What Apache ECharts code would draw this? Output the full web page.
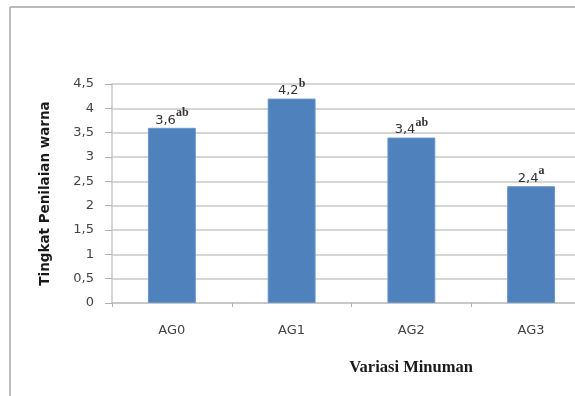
<!DOCTYPE html>
<html>
<head>
<meta charset="utf-8">
<script src="https://cdn.jsdelivr.net/npm/echarts@6/dist/echarts.min.js"></script>
<style>
  html, body { margin: 0; padding: 0; background: #fff; overflow: hidden; }
  #wrap { width: 575px; height: 396px; overflow: hidden; }
  /* canvas is wider than the frame so the plot runs off the right edge */
  #chart { width: 600px; height: 396px; }
</style>
</head>
<body>
<div id="wrap"><div id="chart"></div></div>
<script>
// Colour scores per drink variant, with significance letters
const categories = ['AG0', 'AG1', 'AG2', 'AG3'];
const scores = [3.6, 4.2, 3.4, 2.4];
const letters = ['ab', 'b', 'ab', 'a'];
const yTicks = [0, 0.5, 1, 1.5, 2, 2.5, 3, 3.5, 4, 4.5];

const fmt = v => String(v).replace('.', ',');

const chart = echarts.init(document.getElementById('chart'));
chart.setOption({
  animation: false,
  grid: { left: 112, right: 9, top: 84, bottom: 93 },
  graphic: [
    { type: 'line', shape: { x1: 10, y1: 7, x2: 600, y2: 7 }, style: { stroke: '#a6a6a6', lineWidth: 1.5 } },
    { type: 'line', shape: { x1: 10, y1: 7, x2: 10, y2: 396 }, style: { stroke: '#a6a6a6', lineWidth: 1.5 } },
    {
      type: 'text', x: 411, y: 368,
      style: {
        text: 'Variasi Minuman', align: 'center', verticalAlign: 'middle',
        font: 'bold 16.5px "Liberation Serif"', fill: '#1a1a1a'
      }
    }
  ],
  xAxis: {
    type: 'category',
    data: categories,
    axisLine: { lineStyle: { color: '#c8c8c8', width: 2 } },
    axisTick: { show: true, length: 4, lineStyle: { color: '#b0b0b0' } },
    axisLabel: { margin: 21, fontFamily: 'DejaVu Sans', fontSize: 13, color: '#444' }
  },
  yAxis: {
    type: 'value',
    min: 0,
    max: 4.5,
    interval: 0.5,
    name: 'Tingkat Penilaian warna',
    nameLocation: 'middle',
    nameGap: 60,
    nameTextStyle: { fontFamily: 'DejaVu Sans', fontWeight: 'bold', fontSize: 13.5, color: '#1a1a1a' },
    axisLine: { show: true, lineStyle: { color: '#c8c8c8', width: 1.5 } },
    axisTick: { show: true, length: 7, lineStyle: { color: '#b0b0b0' } },
    splitLine: { lineStyle: { color: '#d6d6d6', width: 2 } },
    axisLabel: {
      margin: 18,
      fontFamily: 'DejaVu Sans', fontSize: 13, color: '#444',
      formatter: v => yTicks.includes(v) ? fmt(v) : ''
    }
  },
  series: [{
    type: 'bar',
    data: scores,
    barWidth: '40%',
    itemStyle: { color: '#4f81bd', borderColor: '#6a96cc', borderWidth: 1 },
    label: {
      show: true,
      position: 'top',
      distance: 1,
      formatter: p => '{v|' + fmt(p.value) + '}{s|' + letters[p.dataIndex] + '}',
      rich: {
        v: { fontFamily: 'DejaVu Sans', fontSize: 13, color: '#333', verticalAlign: 'bottom' },
        s: { fontFamily: 'Liberation Serif', fontWeight: 'bold', fontSize: 12, color: '#333', verticalAlign: 'top', padding: [0, 0, 8, 0] }
      }
    }
  }]
});
</script>
</body>
</html>
